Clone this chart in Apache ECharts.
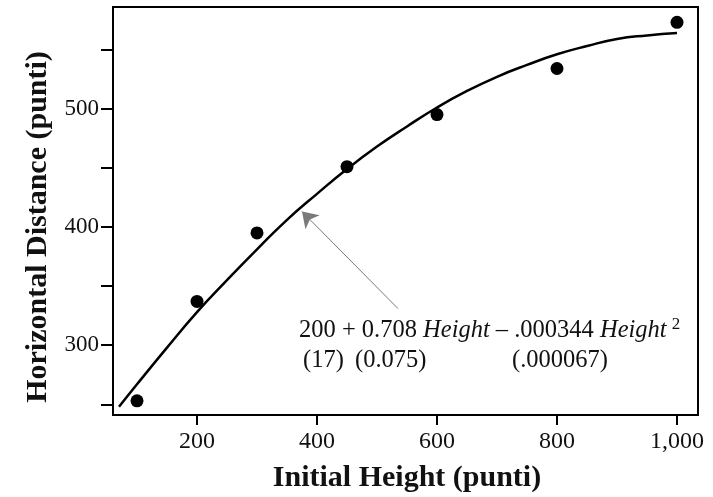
<!DOCTYPE html>
<html><head><meta charset="utf-8">
<script src="https://cdn.jsdelivr.net/npm/echarts@6/dist/echarts.min.js"></script>
<style>html,body{margin:0;padding:0;background:#fff}#c{width:713px;height:497px}</style>
</head><body><div id="c"></div>
<script>
// Observed data (Initial Height vs Horizontal Distance, punti)
const heights = [100, 200, 300, 450, 600, 800, 1000];
const distances = [253, 337, 395, 451, 495, 534, 573];
// Fitted curve, values
const curveX = [70, 100, 150, 200, 250, 300, 350, 400, 450, 500, 550, 600, 650, 700, 750, 800, 850, 900, 950, 1000];
const curveY = [248, 267, 298, 328, 355, 381, 406, 428, 449, 468, 485, 501, 515, 527, 537, 546, 553, 559, 562, 564];
const xTicks = [200, 400, 600, 800, 1000];
const yTicks = [250, 300, 350, 400, 450, 500, 550];
const yLabels = [300, 400, 500];
const arrowFrom = [535, 331];
const arrowTo = [375, 413];

const serif = '"Liberation Serif", "DejaVu Serif", serif';
const chart = echarts.init(document.getElementById('c'));
chart.setOption({
  animation: false,
  backgroundColor: '#fff',
  grid: { left: 113, right: 15, top: 7, bottom: 82, show: true, borderColor: '#000', borderWidth: 2 },
  xAxis: {
    type: 'value', min: 60, max: 1035,
    splitLine: { show: false },
    axisLine: { lineStyle: { color: '#000', width: 2 } },
    axisTick: { customValues: xTicks, length: 10, lineStyle: { color: '#000', width: 2 } },
    axisLabel: { customValues: xTicks, margin: 15, color: '#111', fontFamily: serif, fontSize: 24,
      formatter: v => v >= 1000 ? (Math.floor(v/1000) + ',' + String(v%1000).padStart(3,'0')) : String(v) }
  },
  yAxis: {
    type: 'value', min: 241, max: 586,
    splitLine: { show: false },
    axisLine: { lineStyle: { color: '#000', width: 2 } },
    axisTick: { customValues: yTicks, length: 12, lineStyle: { color: '#000', width: 2 } },
    axisLabel: { customValues: yLabels, margin: 14, color: '#111', fontFamily: serif, fontSize: 23 }
  },
  series: [
    {
      type: 'line', data: curveX.map((x, i) => [x, curveY[i]]), smooth: true,
      showSymbol: false, lineStyle: { color: '#000', width: 2.5 }, z: 2,
      markLine: {
        silent: true, symbol: ['none', 'arrow'], symbolSize: 15,
        lineStyle: { color: '#7a7a7a', width: 1, type: 'solid' }, label: { show: false },
        emphasis: { disabled: true },
        data: [[{ coord: arrowFrom }, { coord: arrowTo }]]
      }
    },
    {
      type: 'scatter', data: heights.map((h, i) => [h, distances[i]]),
      symbolSize: 13, itemStyle: { color: '#000', opacity: 1 }, z: 3
    }
  ],
  graphic: [
    { type: 'text', left: 299, top: 316, style: {
      text: '{r|200 + 0.708 }{i|Height}{r| – .000344 }{i|Height}{s|2}',
      rich: {
        r: { fontFamily: serif, fontSize: 24.5, fill: '#111' },
        i: { fontFamily: serif, fontSize: 24.5, fontStyle: 'italic', fill: '#111' },
        s: { fontFamily: serif, fontSize: 17, fill: '#111', padding: [0, 0, 12, 5] }
      } } },
    { type: 'text', left: 303, top: 348, style: { text: '(17)', fontFamily: serif, fontSize: 24.5, fill: '#111' } },
    { type: 'text', left: 355, top: 348, style: { text: '(0.075)', fontFamily: serif, fontSize: 24.5, fill: '#111' } },
    { type: 'text', left: 512, top: 348, style: { text: '(.000067)', fontFamily: serif, fontSize: 24.5, fill: '#111' } },
    { type: 'text', x: 38, y: 227, rotation: Math.PI / 2, style: {
      text: 'Horizontal Distance (punti)', fontFamily: serif, fontWeight: 'bold', fontSize: 30,
      fill: '#111', align: 'center', verticalAlign: 'middle' } },
    { type: 'text', x: 407, y: 478, style: {
      text: 'Initial Height (punti)', fontFamily: serif, fontWeight: 'bold', fontSize: 30,
      fill: '#111', align: 'center', verticalAlign: 'middle' } }
  ]
});
</script></body></html>
